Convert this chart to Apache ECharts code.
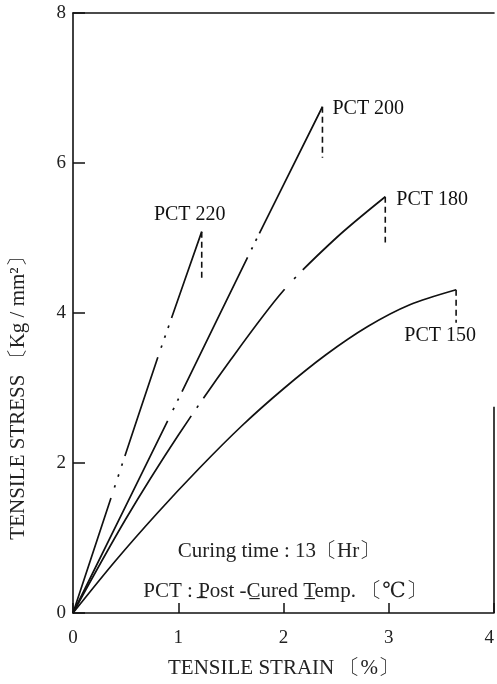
<!DOCTYPE html>
<html><head><meta charset="utf-8">
<script src="https://cdn.jsdelivr.net/npm/echarts@6/dist/echarts.min.js"></script>
<style>html,body{margin:0;padding:0;background:#fff}#c{width:497px;height:684px}</style>
</head><body><div id="c"></div>
<script>
// ---- data ----
const seriesNames = ['PCT 220', 'PCT 200', 'PCT 180', 'PCT 150'];
const strain220 = [0, 0.464, 0.806, 0.938, 1.223];
const stress220 = [0, 1.97, 3.41, 3.94, 5.085];
const strain200 = [0, 1.0, 1.7, 2.37];
const stress200 = [0, 2.85, 4.86, 6.75];
const strain180 = [0, 0.5, 1.0, 1.5, 2.0, 2.5, 2.967];
const stress180 = [0, 1.25, 2.37, 3.38, 4.3, 5.0, 5.55];
const strain150 = [0, 0.4, 0.8, 1.2, 1.6, 2.0, 2.4, 2.8, 3.2, 3.64];
const stress150 = [0, 0.69, 1.33, 1.93, 2.49, 2.99, 3.44, 3.82, 4.11, 4.31];
const breakStress = [4.45, 6.07, 4.94, 3.87]; // lower ends of the dashed fracture marks
const xTickMin = 0, xTickMax = 4, xTickStep = 1;
const yTickMin = 0, yTickMax = 8, yTickStep = 2;
const xTitle = 'TENSILE STRAIN 〔%〕';
const yTitle = 'TENSILE STRESS 〔Kg / mm²〕';
const note1 = 'Curing time : 13〔Hr〕';
const note2 = 'PCT : P\u0332ost -C\u0332ured T\u0332emp. 〔℃〕';

// ---- styles ----
const FONT = "'Liberation Serif', 'DejaVu Serif', serif";
const INK = '#111';
const chainStyles = [
  [121, 11, 2.5, 9, 2.5, 9, 2.5, 8, 104, 10, 2.5, 8, 2.5, 8, 2.5, 8, 400, 10],
  [214, 12, 2.5, 8, 2.5, 8, 149, 9, 2.5, 7, 2.5, 6, 400, 10],
  [230, 10, 2.5, 9, 136, 14, 2.5, 10, 400, 10],
  'solid'
];
const labelPlace = [
  {dx: -12, dy: -17, align: 'center'},
  {dx: 10, dy: 2, align: 'left'},
  {dx: 11, dy: 3, align: 'left'},
  {dx: -16, dy: 46, align: 'center'}
];

const strains = [strain220, strain200, strain180, strain150];
const stresses = [stress220, stress200, stress180, stress150];
const pairs = (xs, ys) => xs.map((x, i) => [x, ys[i]]);

const series = [];
seriesNames.forEach((name, k) => {
  series.push({
    name, type: 'line', data: pairs(strains[k], stresses[k]),
    smooth: 0.3, symbol: 'none', silent: true,
    lineStyle: {color: INK, width: 1.7, type: chainStyles[k], cap: 'butt'}
  });
  const xs = strains[k], ys = stresses[k];
  const xe = xs[xs.length - 1], ye = ys[ys.length - 1];
  series.push({
    name: name + ' break', type: 'line', data: [[xe, ye], [xe, breakStress[k]]],
    symbol: 'none', silent: true,
    lineStyle: {color: INK, width: 1.6, type: [6, 4], cap: 'butt'}
  });
});

const axisLabelStyle = {fontFamily: FONT, fontSize: 19, color: '#222'};
const chart = echarts.init(document.getElementById('c'), null, {renderer: 'canvas'});
chart.setOption({
  animation: false,
  backgroundColor: '#fff',
  grid: {left: 73, right: 2, top: 13, bottom: 70},
  xAxis: [{
    type: 'value', min: xTickMin, max: xTickMax, interval: xTickStep, position: 'bottom',
    axisLine: {show: true, lineStyle: {color: INK, width: 1.6}},
    axisTick: {show: true, inside: true, length: 10, lineStyle: {color: INK, width: 1.5}},
    axisLabel: Object.assign({margin: 16, alignMaxLabel: 'right'}, axisLabelStyle),
    splitLine: {show: false},
    name: xTitle, nameLocation: 'middle', nameGap: 45,
    nameTextStyle: {fontFamily: FONT, fontSize: 21, color: '#222'}
  }, {
    type: 'value', min: xTickMin, max: xTickMax, position: 'top',
    axisLine: {show: true, lineStyle: {color: INK, width: 1.6}},
    axisTick: {show: false}, axisLabel: {show: false}, splitLine: {show: false}
  }],
  yAxis: {
    type: 'value', min: yTickMin, max: yTickMax, interval: yTickStep,
    axisLine: {show: true, lineStyle: {color: INK, width: 1.6}},
    axisTick: {show: true, inside: true, length: 12, lineStyle: {color: INK, width: 1.5}},
    axisLabel: Object.assign({margin: 7}, axisLabelStyle),
    splitLine: {show: false}
  },
  series
});

// annotations positioned through the chart's own coordinate system
const graphics = [];
seriesNames.forEach((name, k) => {
  const xs = strains[k], ys = stresses[k];
  const p = chart.convertToPixel({gridIndex: 0}, [xs[xs.length - 1], ys[ys.length - 1]]);
  const lp = labelPlace[k];
  graphics.push({
    type: 'text', x: p[0] + lp.dx, y: p[1] + lp.dy, silent: true,
    style: {text: name, fill: '#111', font: '20px ' + FONT, textAlign: lp.align, textVerticalAlign: 'middle'}
  });
});
const r0 = chart.convertToPixel({gridIndex: 0}, [xTickMax, 0]);
const r1 = chart.convertToPixel({gridIndex: 0}, [xTickMax, 2.75]);
graphics.push({type: 'line', silent: true, shape: {x1: r0[0], y1: r0[1], x2: r1[0], y2: r1[1]},
  style: {stroke: INK, lineWidth: 1.6}});
graphics.push({type: 'text', x: 18, y: 393, rotation: Math.PI / 2, silent: true,
  style: {text: yTitle, fill: '#222', font: '21px ' + FONT, textAlign: 'center', textVerticalAlign: 'middle'}});
graphics.push({type: 'text', x: 279, y: 551, silent: true,
  style: {text: note1, fill: '#222', font: '21px ' + FONT, textAlign: 'center', textVerticalAlign: 'middle'}});
graphics.push({type: 'text', x: 285, y: 591, silent: true,
  style: {text: note2, fill: '#222', font: '21px ' + FONT, textAlign: 'center', textVerticalAlign: 'middle'}});
chart.setOption({graphic: graphics});
</script>
</body></html>
